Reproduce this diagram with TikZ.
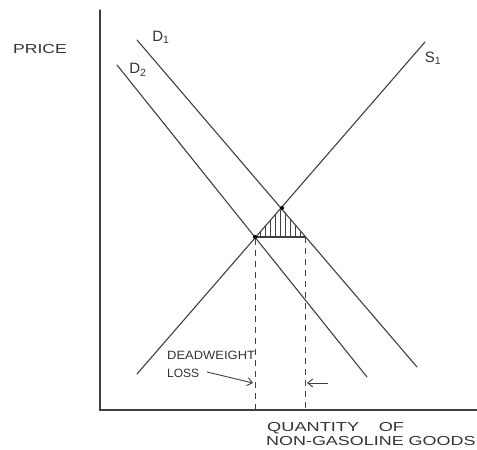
\documentclass[tikz,border=0pt]{standalone}
\usepackage{fontspec}
\setmainfont{Liberation Sans}
\usetikzlibrary{arrows.meta}
\newcommand{\widetext}[2]{\scalebox{#1}[1]{#2}}
\begin{document}
\begin{tikzpicture}[x=1pt,y=-1pt,
  pencil/.style={draw=black!75,line width=1.1pt,line cap=round},
  guide/.style={draw=black!75,line width=0.8pt,dash pattern=on 6pt off 5pt},
  lbl/.style={font=\fontsize{13}{14}\selectfont,text=black!80,inner sep=0pt},
  small/.style={font=\fontsize{12}{13}\selectfont},
  dot/.style={circle,fill=black,inner sep=0pt,minimum size=4pt},
  arr/.style={draw=black!75,line width=0.9pt,-{Straight Barb[length=5pt,width=8pt]}}]
\useasboundingbox (0,0) rectangle (477,450);
% axes
\coordinate (o) at (100,410);
\coordinate (ytop) at (100,10);
\coordinate (xend) at (477,410);
\draw[pencil] (ytop) -- (o) -- (xend);
% curves
\coordinate (s1a) at (137,374);
\coordinate (s1b) at (425,42);
\coordinate (d1a) at (137,40);
\coordinate (d1b) at (417,367);
\coordinate (d2a) at (117,65);
\coordinate (d2b) at (367,377);
\draw[pencil] (s1a) -- (s1b);
\draw[pencil] (d1a) -- (d1b);
\draw[pencil] (d2a) -- (d2b);
% triangle
\coordinate (e2) at (255,237);
\coordinate (e1) at (282,208);
\coordinate (r) at (305,237);
\begin{scope}
\clip (e2) -- (e1) -- (r) -- cycle;
\foreach \x in {260,265,...,305} \draw[black!75,line width=0.6pt] (\x,200) -- (\x,240);
\end{scope}
\draw[pencil] (e2) -- (r);
\node[dot] (p2) at (e2) {};
\node[dot] (p1) at (e1) {};
% guides
\coordinate (g2) at (255,410);
\coordinate (g1) at (305,410);
\draw[guide] (p2) -- (g2);
\draw[guide] (r) -- (g1);
% labels
\node[lbl] (price) at (40,49) {\widetext{1.35}{PRICE}};
\node[lbl,font=\fontsize{15}{16}\selectfont] (dl1) at (161,37) {D\textsubscript{1}};
\node[lbl,font=\fontsize{15}{16}\selectfont] (dl2) at (138,70) {D\textsubscript{2}};
\node[lbl,font=\fontsize{15}{16}\selectfont] (sl1) at (433,58) {S\textsubscript{1}};
\node[lbl,small,anchor=west] (dw) at (167,355) {\widetext{1.08}{DEADWEIGHT}};
\node[lbl,small,anchor=west] (loss) at (167,373) {LOSS};
\coordinate (a1s) at (207,372);
\coordinate (a1) at (253,383);
\coordinate (a2e) at (307,383);
\coordinate (a2s) at (328,383);
\draw[arr] (a1s) -- (a1);
\draw[arr] (a2s) -- (a2e);
\node[lbl,anchor=west] (q1) at (267,428) {\widetext{1.4}{QUANTITY\hspace{14pt}OF}};
\node[lbl,anchor=west] (q2) at (266,441) {\widetext{1.38}{NON-GASOLINE GOODS}};
\end{tikzpicture}
\end{document}
